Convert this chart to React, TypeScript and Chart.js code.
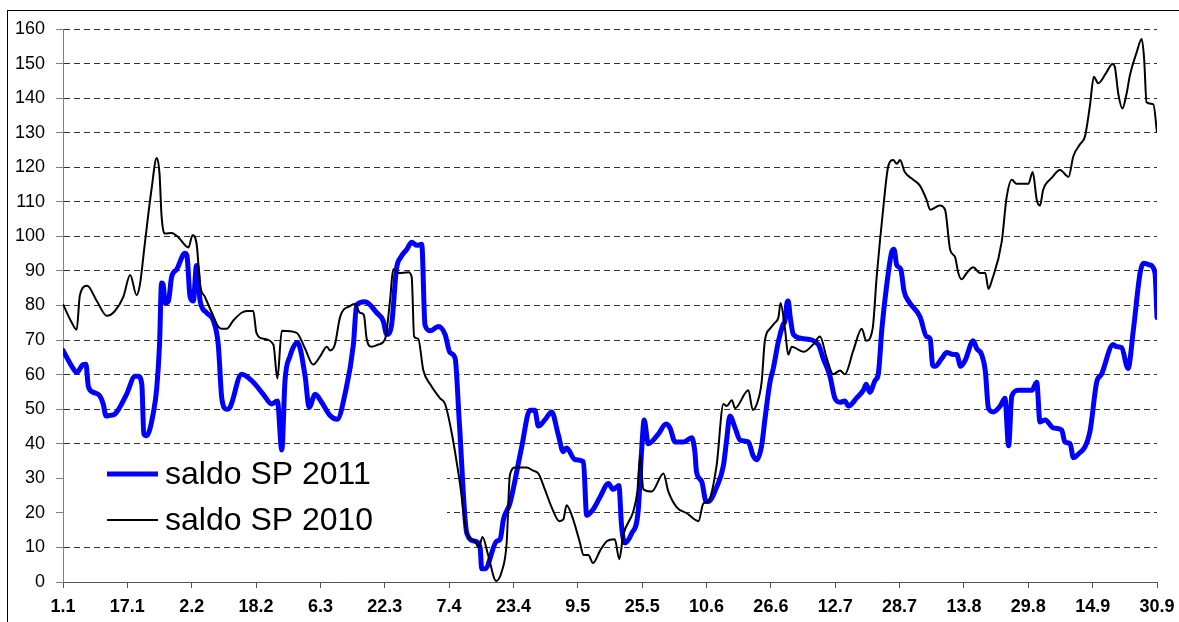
import React, { useEffect, useRef } from "react";
import { Chart, registerables } from "chart.js";

Chart.register(...registerables);

const seriesLabels = ["saldo SP 2011", "saldo SP 2010"];

const xTickLabels = [
  "1.1", "17.1", "2.2", "18.2", "6.3", "22.3", "7.4", "23.4", "9.5",
  "25.5", "10.6", "26.6", "12.7", "28.7", "13.8", "29.8", "14.9", "30.9",
];

const yTicks = [0, 10, 20, 30, 40, 50, 60, 70, 80, 90, 100, 110, 120, 130, 140, 150, 160];

// day index (0 = 1.1.) and value, 2011
const days2011 = [
  0, 2.2, 3.4, 5, 5.7, 6.3, 7.5, 9.2, 10, 10.7, 11.7, 12.9, 15.8, 17.9, 18.7, 19.6, 20.1, 20.8,
  22.5, 23.3, 24, 24.5, 24.9, 25.4, 26.2, 27, 28.3, 30.3, 30.8, 31.6, 32.4, 33.2, 34.1, 35.7,
  37.4, 38.6, 39.5, 40.7, 41.5, 44.4, 47.3, 49.8, 51.9, 53.3, 54.4, 55.2, 56.4, 58.3, 60.2,
  61.2, 62.7, 64.3, 66.4, 68.2, 70.1, 72.2, 73, 75.1, 78, 79.6, 80.5, 81.7, 82.9, 84, 85.5,
  86.7, 88, 89.2, 90, 91.3, 93.3, 95, 96.2, 97.5, 98.5, 100.4, 102.4, 103.7, 104.1, 104.9,
  107.8, 108.7, 109.5, 111.1, 114, 116.1, 117.3, 118.2, 119.8, 121.5, 123.1, 124.4, 125.2,
  127.3, 129.4, 130.2, 131.8, 133.5, 135.6, 136.8, 138.2, 138.9, 139.7, 141.4, 143, 143.9,
  144.5, 145.5, 148, 149.9, 150.9, 152.2, 154.2, 156.3, 157.1, 157.5, 158.8, 159.9, 160.4,
  162.5, 164.2, 165, 165.8, 167.1, 168.3, 170.4, 171.6, 172.5, 173.7, 174.5, 175.8, 176.6,
  177.9, 179, 179.5, 180, 180.3, 180.8, 181.6, 184.1, 187.8, 189, 190.7, 191.9, 193.2, 194.4,
  195.3, 197.3, 199, 199.7, 200.6, 201.9, 202.7, 203.6, 204.8, 206.1, 206.6, 207.3, 208.3,
  209.1, 210.2, 213.1, 214.7, 215.6, 216.2, 216.8, 218.5, 219.7, 221.4, 222.2, 223.2, 224.3,
  226.3, 227.2, 228.4, 229.3, 230.1, 231.3, 233, 234.2, 235.1, 235.9, 237.5, 240.9, 242.1,
  242.9, 244.2, 246.2, 248.3, 249.1, 250.4, 251.2, 252, 255.3, 257, 258.2, 261.1, 261.9,
  263.2, 264.8, 266.1, 267.8, 268.6, 270.3, 271.5, 272,
];
const values2011 = [
  67, 62.4, 60.6, 62.9, 63, 56.6, 54.9, 53.8, 51.5, 48, 48.2, 48.6, 54.3, 59.5, 59.5, 57.2, 42.8, 42.3,
  49.2, 56, 68.7, 86.5, 86, 80.7, 81.3, 88.2, 90.5, 95.1, 94.5, 82.5, 81.3, 91.6, 81.3, 77.9,
  75.6, 68.7, 53, 50, 50.5, 60.1, 57.8, 54.3, 51.5, 52.4, 38.2, 58.3, 65.2, 69.3, 59.5,
  50.5, 54.3, 52, 48.2, 47.1, 54.3, 68.7, 80.2, 81.1, 77.9, 75.6, 71.6, 74.4, 90.5, 94, 96.3,
  98.3, 97.4, 97.7, 74.4, 72.7, 73.9, 71.6, 66.4, 64.7, 46.9, 14.1, 11.8, 10, 3.8, 3.8,
  11.8, 12.4, 18.1, 22.7, 38.8, 49.7, 49.7, 45.1, 46.9, 49.2, 42.8, 37.7, 38.8,
  35.4, 34.8, 19.3, 21, 24.5, 28.5, 26.8, 27.9, 15.9, 11.3, 14.1, 20.5, 38.8,
  46.9, 40, 42.8, 45.7, 44.6, 40.5, 40.5, 41.7, 37.7, 31.9, 29.1, 23.3, 23.3,
  27.4, 33.7, 41.1, 48, 44.6, 41.1, 40.5, 36.5, 35.4, 39.4, 46.9, 58, 61.8,
  69.8, 74.4, 75.6, 80.7, 81.3, 76.7, 71.6, 70.4, 68.7, 64.7, 59.5, 53.2, 52, 52.4,
  50.9, 53.2, 55.5, 57.2, 54.9, 58.3, 60.1, 73.3, 85.9, 95.7, 96.3, 91.7, 90.5,
  84.2, 81.3, 76.7, 71, 70.4, 62.9, 62.4, 64.7, 66.4, 65.8, 65.8, 62.4, 64.1,
  69.8, 67.5, 65.8, 61.2, 50.3, 49.2, 50.9, 53.2, 39.4, 53.8, 55.5, 55.5, 57.8,
  46.3, 46.9, 44.6, 44, 40.5, 40, 36, 36.5, 43.4, 57.8, 60.1, 68.7, 68.1,
  67.8, 61.8, 72.7, 89.4, 92.2, 91.7, 89.4, 76.5,
];

// day index (0 = 1.1.) and value, 2010
const days2010 = [
  0, 2.2, 3.4, 4.2, 6, 8.4, 10.9, 12.9, 15, 16.7, 18.3, 19.1, 20.4, 22, 23.3, 24, 24.5, 25.4,
  27, 28.7, 31.2, 32.2, 33.2, 34.1, 35.3, 37, 38.6, 39.4, 40.7, 42.3, 44.4, 45.7, 47.3, 48.1,
  49.8, 52.3, 53.3, 54.4, 58.1, 60.2, 62.2, 63.9, 65.6, 66.4, 67.6, 68.9, 71.4, 72.6, 73.8,
  74.8, 75.5, 76.7, 78.4, 80.1, 81.3, 82.1, 83.4, 85.9, 86.7, 87.3, 88.3, 89.6, 91.3, 93.7,
  95, 96.6, 98.7, 100.4, 102.4, 103.4, 104.3, 105.7, 107.7, 109.1, 110.3, 111.1, 112.4, 115.3,
  116.9, 118.2, 119.8, 121.5, 123.4, 124.4, 125.2, 126.5, 128.5, 129.4, 130.6, 131.8, 133.5,
  135.2, 137.2, 138.3, 139.3, 141.8, 142.8, 143.5, 144.3, 146.4, 149.3, 150.5, 152.6, 155.1,
  158, 159.2, 160.4, 162.5, 164.2, 165, 166.3, 167.1, 170.4, 171.5, 172.5, 173.7, 174.5,
  175.8, 177, 177.9, 178.4, 179.5, 180.3, 181.2, 184.1, 186.5, 188.2, 189.9, 191.5, 193.2,
  194.4, 196.5, 198.6, 199.7, 201.3, 202.3, 203.9, 205.2, 206.4, 207.3, 208.1, 209.3, 211.4,
  213.1, 214.7, 215.6, 218, 219.3, 220.6, 221.8, 222.6, 223.4, 224.7, 226.3, 228, 229.3,
  230.1, 230.9, 233.4, 234.6, 235.9, 237.1, 240, 241.1, 242.1, 242.9, 243.7, 245.8, 247.9,
  250, 251.2, 252.9, 254.1, 255.3, 256.3, 257.4, 259.4, 260.9, 261.5, 262.4, 263.4, 264.4,
  265.3, 266.9, 268.2, 268.8, 269.4, 271.1, 272,
];
const values2010 = [
  80.4, 75, 73, 83, 85.7, 81.3, 77, 78.4, 82.5, 88.8, 83, 85.9, 98.5, 113.5, 122.7, 118.1, 106, 100.8,
  101, 99.7, 96.8, 100.3, 98, 85.9, 82.5, 77.9, 73.9, 73.3, 73.3, 75.6, 77.9, 78.4, 78.4, 72.1,
  70.4, 68.7, 58.9, 72.7, 72.1, 67.5, 62.9, 65.2, 68.1, 67, 68.7, 76.7, 79.9, 80.4, 77.9,
  77.3, 70.4, 68.1, 68.7, 70.4, 81.3, 90.5, 89.4, 89.6, 88.2, 71, 70.4, 61.2, 57.2, 53.2,
  51.5, 43.4, 28.5, 14.1, 11.8, 10, 13, 7.8, 0.3, 3.1, 11.2, 30.8, 33.1, 33.1,
  32.2, 31.4, 26.8, 21.6, 17.6, 18.1, 22.2, 19.3, 11.5, 7.8, 7.8, 5.5, 9,
  11.8, 12.4, 6.6, 13.6, 20.5, 26.2, 36.5, 26.8, 26.2, 31.4, 26.2, 21.6, 19.9,
  17.6, 22.7, 23.3, 33.7, 51.5, 50.9, 52.6, 50.3, 55.5, 49.8, 51.5, 57.8, 69.8,
  73.3, 75, 76.7, 80.7, 73.3, 65.8, 68.1, 66.6, 68.7, 71, 64.7, 60.1, 61.2,
  60.1, 67, 73.3, 69.8, 73.3, 88.2, 107.7, 120.4, 122.1, 121, 122.1, 118.6, 116.4,
  114.6, 110.6, 107.7, 108.9, 107.7, 96, 94, 89.4, 87.6, 89.4, 91.1, 89.4, 89.4,
  84.8, 87.1, 98.5, 111.2, 116.4, 115.2, 115.2, 118.6, 110.6, 108.9, 113.5, 116.9, 119.2,
  117.2, 123.2, 126.7, 129, 137.6, 146.2, 144.3, 147.4, 149.9, 149.1, 141.1, 137, 141.1,
  146.8, 153.1, 157.1, 151.4, 138.8, 138.2, 130,
];

const seriesColors = ["#0000FF", "#000000"];
const seriesWidths = [5, 2];
const FONT = "'Liberation Sans', Arial, sans-serif";

const legendPlugin = {
  id: "insideLegend",
  beforeDatasetsDraw(chart: any) {
    const ctx = chart.ctx;
    ctx.save();
    ctx.fillStyle = "#ffffff";
    ctx.fillRect(chart.chartArea.left + 1, 452, 383, 89);
    ctx.restore();
  },
  afterDatasetsDraw(chart: any) {
    const ctx = chart.ctx;
    ctx.save();
    const rows = [475, 521];
    chart.data.datasets.forEach((ds: any, i: number) => {
      const y = rows[i];
      ctx.beginPath();
      ctx.strokeStyle = ds.borderColor;
      ctx.lineWidth = ds.borderWidth;
      ctx.lineCap = "butt";
      ctx.moveTo(107, y - 1);
      ctx.lineTo(158, y - 1);
      ctx.stroke();
      ctx.fillStyle = "#000";
      ctx.font = `32px ${FONT}`;
      ctx.textBaseline = "middle";
      ctx.textAlign = "left";
      ctx.fillText(ds.label, 165, y);
    });
    ctx.restore();
  },
};

export default function App() {
  const canvasRef = useRef<HTMLCanvasElement | null>(null);

  useEffect(() => {
    const canvas = canvasRef.current;
    if (!canvas) return;
    const chart = new Chart(canvas, {
      type: "line",
      data: {
        datasets: [
          {
            label: seriesLabels[0],
            data: days2011.map((d, i) => ({ x: d, y: values2011[i] })),
            borderColor: seriesColors[0],
            backgroundColor: seriesColors[0],
            borderWidth: seriesWidths[0],
            pointRadius: 0,
            cubicInterpolationMode: "monotone",
            borderJoinStyle: "round",
            borderCapStyle: "round",
            order: 1,
          },
          {
            label: seriesLabels[1],
            data: days2010.map((d, i) => ({ x: d, y: values2010[i] })),
            borderColor: seriesColors[1],
            backgroundColor: seriesColors[1],
            borderWidth: seriesWidths[1],
            pointRadius: 0,
            cubicInterpolationMode: "monotone",
            borderJoinStyle: "round",
            order: 0,
          },
        ],
      },
      options: {
        responsive: false,
        animation: false,
        devicePixelRatio: 1,
        layout: { padding: { top: 29, right: 22, left: 0, bottom: 0 } },
        plugins: {
          legend: { display: false },
          tooltip: { enabled: false },
        },
        scales: {
          x: {
            type: "linear",
            min: 0,
            max: (xTickLabels.length - 1) * 16,
            afterFit: (scale: any) => {
              scale.height = 40;
              scale.paddingLeft = 0;
              scale.paddingRight = 0;
            },
            afterBuildTicks: (scale: any) => {
              scale.ticks = xTickLabels.map((_, i) => ({ value: i * 16 }));
            },
            grid: {
              display: true,
              drawOnChartArea: false,
              drawTicks: true,
              tickLength: 6,
              tickColor: "#555555",
              tickWidth: 1,
            },
            border: { display: true, color: "#555555", width: 1 },
            ticks: {
              autoSkip: false,
              maxRotation: 0,
              minRotation: 0,
              padding: 8,
              color: "#000",
              font: { family: FONT, size: 18, weight: "bold" },
              callback: (value: any) => xTickLabels[Math.round(Number(value) / 16)],
            },
          },
          y: {
            type: "linear",
            min: yTicks[0],
            max: yTicks[yTicks.length - 1],
            afterFit: (scale: any) => {
              scale.width = 63;
            },
            afterBuildTicks: (scale: any) => {
              scale.ticks = yTicks.map((v) => ({ value: v }));
            },
            grid: {
              display: true,
              drawOnChartArea: true,
              drawTicks: true,
              tickLength: 7,
              tickColor: "#808080",
              color: "#333333",
              lineWidth: 1,
            },
            border: { display: true, color: "#808080", width: 1, dash: [6, 4] },
            ticks: {
              padding: 11,
              color: "#000",
              font: { family: FONT, size: 18 },
            },
          },
        },
      },
      plugins: [legendPlugin],
    } as any);
    return () => chart.destroy();
  }, []);

  return (
    <div
      style={{
        position: "fixed",
        left: 0,
        top: 0,
        width: 1179,
        height: 622,
        overflow: "hidden",
        background: "#fff",
      }}
    >
      <div
        style={{
          position: "absolute",
          left: 7,
          top: 10,
          width: 1200,
          height: 640,
          border: "1px solid #000",
          boxSizing: "border-box",
        }}
      />
      <canvas
        ref={canvasRef}
        width={1179}
        height={622}
        style={{ position: "absolute", left: 0, top: 0, width: 1179, height: 622 }}
      />
    </div>
  );
}
